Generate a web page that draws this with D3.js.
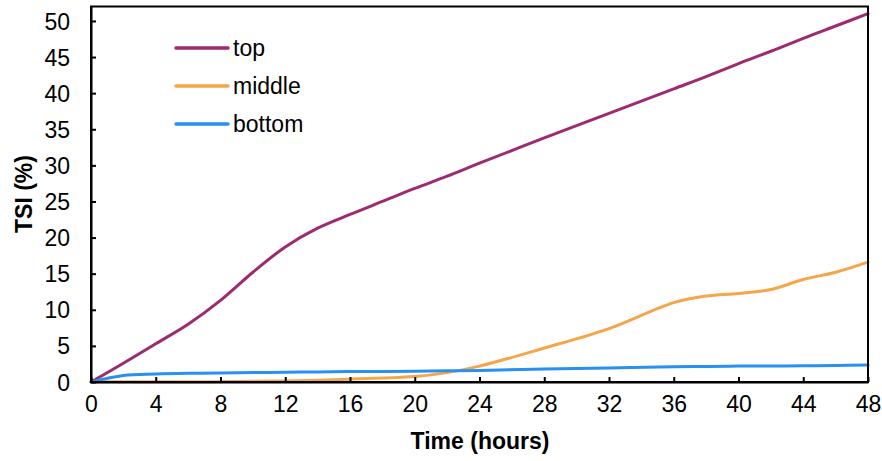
<!DOCTYPE html>
<html><head><meta charset="utf-8">
<script src="https://cdn.jsdelivr.net/npm/d3@7"></script>
<style>body{margin:0;background:#fff}svg{display:block;font-family:"Liberation Sans",Arial,sans-serif}</style>
</head><body><svg id="c" width="882" height="461"></svg>
<script>
const hours = [0,2,4,6,8,10,12,14,16,18,20,22,24,28,32,36,38,40,42,44,46,48];
const topVals    = [0,2.6,5.3,8,11.3,15.2,18.7,21.3,23.2,25,26.8,28.5,30.3,33.8,37.2,40.6,42.3,44.1,45.8,47.6,49.3,51];
const middleVals = [0,0.05,0.05,0.05,0.05,0.1,0.15,0.25,0.4,0.55,0.75,1.3,2.2,4.7,7.4,11.0,11.9,12.25,12.8,14.2,15.2,16.6];
const bottomVals = [0,0.9,1.1,1.2,1.25,1.3,1.35,1.4,1.45,1.45,1.5,1.55,1.6,1.8,1.95,2.1,2.15,2.2,2.22,2.25,2.3,2.35];
const seriesNames = ["top","middle","bottom"];
const seriesColors = ["#9C2B6F","#F5A64A","#2790F0"];
const xTicks = [0,4,8,12,16,20,24,28,32,36,40,44,48];
const yTicks = [0,5,10,15,20,25,30,35,40,45,50];

const svg = d3.select("#c");
const L=91, R=868, T=6.5, B=382;
const x = d3.scaleLinear().domain([0,48]).range([L,R]);
const y = d3.scaleLinear().domain([0,52]).range([B,T]);

const data = [topVals, middleVals, bottomVals];
const line = d3.line().x((d,i)=>x(hours[i])).y(d=>y(d)).curve(d3.curveCatmullRom.alpha(0.5));

data.forEach((vals,k)=>{
  svg.append("path").attr("d", line(vals)).attr("fill","none")
    .attr("stroke", seriesColors[k]).attr("stroke-width",3).attr("stroke-linecap","round");
});

svg.append("rect").attr("x",L).attr("y",T).attr("width",R-L).attr("height",B-T)
  .attr("fill","none").attr("stroke","#000").attr("stroke-width",2);

const xa = svg.append("g").attr("transform",`translate(0,${B})`)
  .call(d3.axisBottom(x).tickValues(xTicks).tickSizeInner(-5).tickSizeOuter(0).tickPadding(14));
const ya = svg.append("g").attr("transform",`translate(${L},0)`)
  .call(d3.axisLeft(y).tickValues(yTicks).tickSizeInner(-5).tickSizeOuter(0).tickPadding(21));
[xa,ya].forEach(g=>{
  g.select(".domain").attr("stroke","#000").attr("stroke-width",2);
  g.selectAll(".tick line").attr("stroke","#000").attr("stroke-width",2);
  g.selectAll(".tick text").attr("font-size",23).attr("fill","#000")
   .attr("font-family","'Liberation Sans',Arial,sans-serif");
});
ya.selectAll(".tick text").attr("dy","0.35em");

svg.append("text").attr("x",480).attr("y",449).attr("text-anchor","middle")
  .attr("font-size",23).attr("font-weight","bold").text("Time (hours)");
svg.append("text").attr("transform","translate(32,194) rotate(-90)").attr("text-anchor","middle")
  .attr("font-size",23).attr("font-weight","bold").text("TSI (%)");

const ly = [48,86,124];
seriesNames.forEach((n,k)=>{
  svg.append("line").attr("x1",176).attr("x2",228).attr("y1",ly[k]).attr("y2",ly[k])
    .attr("stroke",seriesColors[k]).attr("stroke-width",3.5).attr("stroke-linecap","round");
  svg.append("text").attr("x",233).attr("y",ly[k]).attr("dy","0.35em")
    .attr("font-size",23).text(n);
});
</script></body></html>
